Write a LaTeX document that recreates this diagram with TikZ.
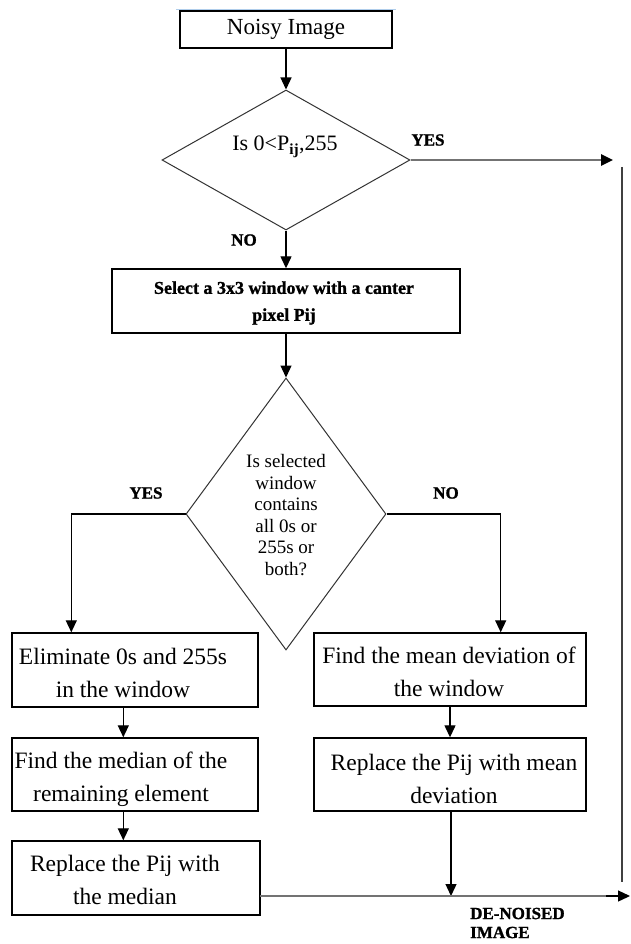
\documentclass[tikz,border=0pt]{standalone}
\usepackage{fontspec}
\setmainfont{Liberation Serif}
\newfontfamily\heavyfont[FakeBold=1.2]{Liberation Serif Bold}
\usetikzlibrary{arrows.meta,shapes.geometric}
\begin{document}
\begin{tikzpicture}[x=1pt,y=-1pt,
  box/.style={draw=black,line width=1.4pt,rectangle,inner sep=0pt},
  dia/.style={draw=black!80,line width=1pt,diamond,inner sep=0pt},
  txt/.style={align=center,inner sep=0pt,font=\fontsize{23.5}{33}\selectfont},
  lbl/.style={inner sep=0pt,font=\fontsize{17}{19}\selectfont\heavyfont},
  arr/.style={line width=1.3pt,-{Triangle[width=11pt,length=12pt]}},
  gline/.style={line width=2.6pt,draw=black!55},
  garr/.style={line width=2.6pt,draw=black!55,-{Triangle[width=11pt,length=12pt,color=black]}}
]
\useasboundingbox (0,0) rectangle (630,944);
\fill[white] (0,0) rectangle (630,944);

% faint top line
\draw[color={rgb,255:red,175;green,205;blue,235},line width=1pt] (176,10) -- (396,10);

% shapes
\node[box,minimum width=212pt,minimum height=37pt] (noisy) at (286,29.5) {};
\node[dia,minimum width=248pt,minimum height=140pt] (d1) at (286,160) {};
\node[box,minimum width=348pt,minimum height=64pt] (select) at (286,301) {};
\node[dia,minimum width=200pt,minimum height=272pt] (d2) at (286,514) {};
\node[box,minimum width=246pt,minimum height=74pt] (elim) at (135,670) {};
\node[box,minimum width=246pt,minimum height=73pt] (median) at (135,774.5) {};
\node[box,minimum width=248pt,minimum height=74pt] (repmed) at (136,878) {};
\node[box,minimum width=272pt,minimum height=73pt] (mean) at (450,669.5) {};
\node[box,minimum width=272pt,minimum height=73pt] (repmean) at (450,774.5) {};

% texts
\node[txt,font=\fontsize{23}{30}\selectfont] (tnoisy) at (286,29) {Noisy Image};
\node[txt,font=\fontsize{22}{28}\selectfont] (td1) at (285,147) {Is 0<P\textsubscript{\textbf{ij}},255};
\node[txt,font=\fontsize{18}{27}\selectfont\heavyfont] (tselect) at (284,303) {Select a 3x3 window with a canter\\pixel Pij};
\node[txt,font=\fontsize{19}{21.5}\selectfont] (td2) at (286,515) {Is selected\\window\\contains\\all 0s or\\255s or\\both?};
\node[txt] (telim) at (123,673) {Eliminate 0s and 255s\\in the window};
\node[txt] (tmedian) at (121,779) {Find the median of the\\remaining element};
\node[txt] (trepmed) at (125,880) {Replace the Pij with\\the median};
\node[txt] (tmean) at (449,672) {Find the mean deviation of\\the window};
\node[txt] (trepmean) at (454,779) {Replace the Pij with mean\\deviation};

% labels
\node[lbl] (yes1) at (428,140) {YES};
\node[lbl] (no1) at (244,240) {NO};
\node[lbl] (yes2) at (146,493) {YES};
\node[lbl] (no2) at (446,493) {NO};
\node[lbl,anchor=west,align=left] (denoised) at (470,923) {DE-NOISED\\IMAGE};

% coordinates
\coordinate (yesend) at (613,160);
\coordinate (rtop) at (622,167);
\coordinate (rbot) at (622,882);
\coordinate (bstart) at (260,896);
\coordinate (join) at (451,896);
\coordinate (bmid) at (606,896);
\coordinate (outend) at (630,896);

% connectors
\draw[arr] (noisy.south) -- (d1.north);
\draw[garr] (d1.east) -- (yesend);
\draw[line width=1.3pt,black!75] (rtop) -- (rbot);
\draw[arr] (d1.south) -- (select.north);
\draw[arr] (select.south) -- (d2.north);
\draw[arr] (d2.west) -| ([xshift=60pt]elim.north west);
\draw[arr] (d2.east) -| ([xshift=-86pt]mean.north east);
\draw[arr] ([xshift=112pt]elim.south west) -- ([xshift=112pt]median.north west);
\draw[arr] ([xshift=112pt]median.south west) -- ([xshift=112pt]repmed.north west);
\draw[arr] (mean.south) -- (repmean.north);
\draw[arr] ([xshift=1pt]repmean.south) -- (join);
\draw[gline] (bstart) -- (bmid);
\draw[arr] (bmid) -- (outend);
\end{tikzpicture}
\end{document}
